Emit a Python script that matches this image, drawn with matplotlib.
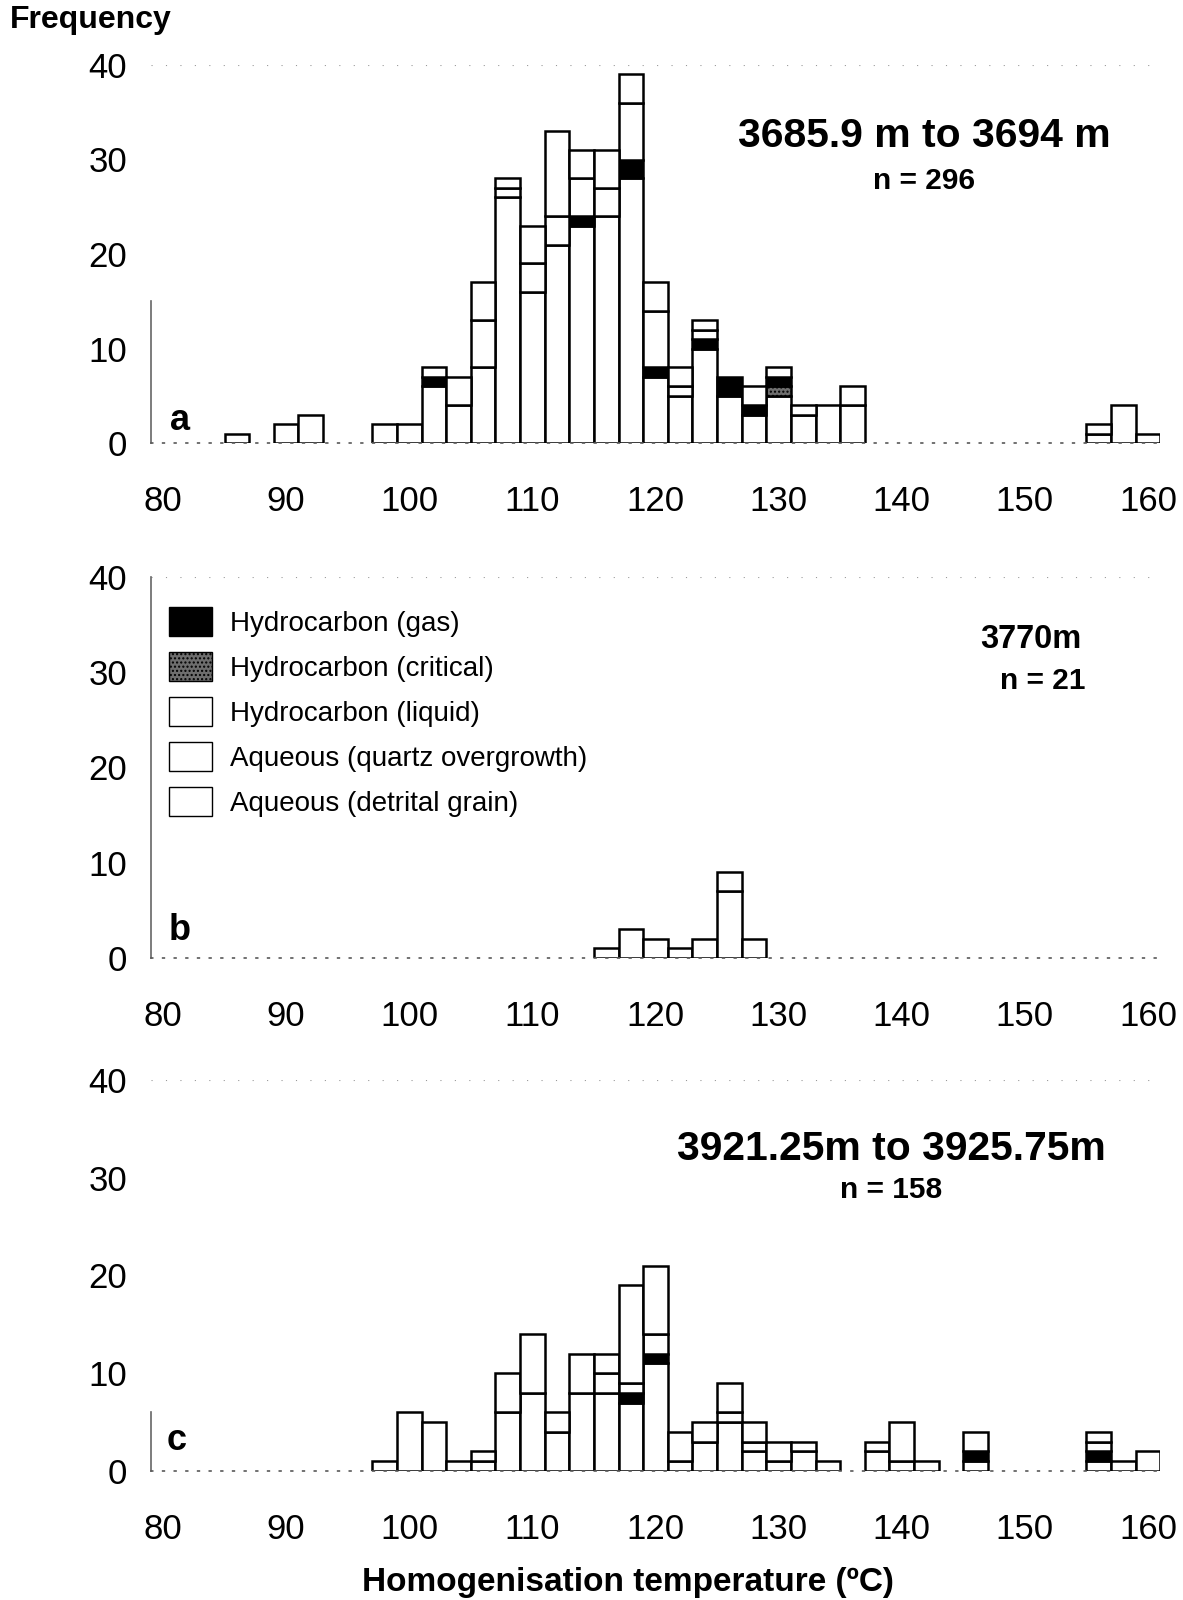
import numpy as np
import matplotlib
matplotlib.use('Agg')
import matplotlib.pyplot as plt
from matplotlib.patches import Patch

plt.rcParams['font.family'] = ['Liberation Sans', 'DejaVu Sans']
plt.rcParams['hatch.linewidth'] = 1.0

# bin centres (2 degC bins) and counts per inclusion type, stacked bottom -> top
a_temp = [86, 90, 92, 98, 100, 102, 104, 106, 108, 110, 112, 114, 116, 118,
          120, 122, 124, 126, 128, 130, 132, 134, 136, 156, 158, 160]
a_liquid = [1, 2, 3, 2, 2, 6, 4, 8, 26, 16, 21, 23, 24, 28,
            7, 5, 10, 5, 3, 5, 3, 4, 4, 1, 4, 1]
a_critical = [0, 0, 0, 0, 0, 0, 0, 0, 0, 0, 0, 0, 0, 0,
              0, 0, 0, 0, 0, 1, 0, 0, 0, 0, 0, 0]
a_gas = [0, 0, 0, 0, 0, 1, 0, 0, 0, 0, 0, 1, 0, 2,
         1, 0, 1, 2, 1, 1, 0, 0, 0, 0, 0, 0]
a_quartz = [0, 0, 0, 0, 0, 1, 3, 5, 1, 3, 3, 4, 3, 6,
            6, 1, 1, 0, 2, 1, 1, 0, 2, 1, 0, 0]
a_detrital = [0, 0, 0, 0, 0, 0, 0, 4, 1, 4, 9, 3, 4, 3,
              3, 2, 1, 0, 0, 0, 0, 0, 0, 0, 0, 0]

b_temp = [116, 118, 120, 122, 124, 126, 128]
b_liquid = [1, 3, 2, 1, 2, 7, 2]
b_critical = [0, 0, 0, 0, 0, 0, 0]
b_gas = [0, 0, 0, 0, 0, 0, 0]
b_quartz = [0, 0, 0, 0, 0, 2, 0]
b_detrital = [0, 0, 0, 0, 0, 0, 0]

c_temp = [98, 100, 102, 104, 106, 108, 110, 112, 114, 116, 118, 120, 122,
          124, 126, 128, 130, 132, 134, 138, 140, 142, 146, 156, 158, 160]
c_liquid = [1, 6, 5, 1, 1, 6, 8, 4, 8, 8, 7, 11, 1,
            3, 5, 2, 1, 2, 1, 2, 1, 1, 1, 1, 1, 2]
c_critical = [0] * 26
c_gas = [0, 0, 0, 0, 0, 0, 0, 0, 0, 0, 1, 1, 0,
         0, 0, 0, 0, 0, 0, 0, 0, 0, 1, 1, 0, 0]
c_quartz = [0, 0, 0, 0, 1, 4, 6, 2, 4, 2, 1, 2, 3,
            2, 1, 1, 2, 1, 0, 1, 4, 0, 2, 1, 0, 0]
c_detrital = [0, 0, 0, 0, 0, 0, 0, 0, 0, 2, 10, 7, 0,
              0, 3, 2, 0, 0, 0, 0, 0, 0, 0, 1, 0, 0]

legend_labels = ['Hydrocarbon (gas)', 'Hydrocarbon (critical)', 'Hydrocarbon (liquid)',
                 'Aqueous (quartz overgrowth)', 'Aqueous (detrital grain)']

W, H = 1183, 1600
fig = plt.figure(figsize=(W / 100, H / 100), dpi=100)


def px_axes(y_zero, y_forty):
    left = 150.7 / W
    width = (1160.3 - 150.7) / W
    return fig.add_axes([left, 1 - y_zero / H, width, (y_zero - y_forty) / H])


def draw_panel(ax, temps, liquid, critical, gas, quartz, detrital, spine_top):
    temps = np.array(temps)
    bottom = np.zeros(len(temps))
    layers = [(liquid, dict(facecolor='white')),
              (critical, dict(facecolor='#6e6e6e', hatch='....')),
              (gas, dict(facecolor='black')),
              (quartz, dict(facecolor='white')),
              (detrital, dict(facecolor='white'))]
    for vals, style in layers:
        vals = np.array(vals, dtype=float)
        m = vals > 0
        if m.any():
            ax.bar(temps[m], vals[m], width=2, bottom=bottom[m], edgecolor='black',
                   linewidth=1.8, **style)
        bottom += vals

    ax.set_xlim(79, 161)
    ax.set_ylim(0, 40)
    ax.set_xticks(range(80, 161, 10))
    ax.set_yticks(range(0, 41, 10))
    ax.tick_params(axis='x', length=0, pad=30, labelsize=25)
    ax.tick_params(axis='y', length=0, pad=17, labelsize=25)
    for s in ['top', 'right']:
        ax.spines[s].set_visible(False)
    ax.spines['bottom'].set_linestyle((0, (1, 6)))
    ax.spines['bottom'].set_color('0.35')
    ax.spines['bottom'].set_linewidth(1.2)
    ax.spines['left'].set_color('0.4')
    ax.spines['left'].set_linewidth(1.2)
    ax.spines['left'].set_bounds(0, spine_top)
    ax.axhline(40, color='0.6', lw=0.8, ls=(0, (1, 12)))
    ax.patch.set_alpha(0)


ax_a = px_axes(443, 65)
draw_panel(ax_a, a_temp, a_liquid, a_critical, a_gas, a_quartz, a_detrital, 15)
ax_b = px_axes(958, 577)
draw_panel(ax_b, b_temp, b_liquid, b_critical, b_gas, b_quartz, b_detrital, 40)
ax_c = px_axes(1471, 1080)
draw_panel(ax_c, c_temp, c_liquid, c_critical, c_gas, c_quartz, c_detrital, 6)


def ftext(x, y, s, **kw):
    fig.text(x / W, 1 - y / H, s, **kw)


ftext(10, 20, 'Frequency', fontsize=23, fontweight='bold', ha='left', va='center')

ftext(924, 136, '3685.9 m to 3694 m', fontsize=29.4, fontweight='bold', ha='center', va='center')
ftext(924, 181, 'n = 296', fontsize=21.5, fontweight='bold', ha='center', va='center')
ftext(1031, 639, '3770m', fontsize=23.5, fontweight='bold', ha='center', va='center')
ftext(1043, 681, 'n = 21', fontsize=21.5, fontweight='bold', ha='center', va='center')
ftext(891, 1149, '3921.25m to 3925.75m', fontsize=29.4, fontweight='bold', ha='center', va='center')
ftext(891, 1190, 'n = 158', fontsize=21.5, fontweight='bold', ha='center', va='center')

ftext(180, 420, 'a', fontsize=26, fontweight='bold', ha='center', va='center')
ftext(180, 930, 'b', fontsize=26, fontweight='bold', ha='center', va='center')
ftext(177, 1440, 'c', fontsize=26, fontweight='bold', ha='center', va='center')

ftext(628, 1582, 'Homogenisation temperature (ºC)', fontsize=24, fontweight='bold',
      ha='center', va='center')

handles = [Patch(facecolor='black', edgecolor='black'),
           Patch(facecolor='#6e6e6e', edgecolor='black', hatch='....'),
           Patch(facecolor='white', edgecolor='black'),
           Patch(facecolor='white', edgecolor='black'),
           Patch(facecolor='white', edgecolor='black')]
ax_b.legend(handles, legend_labels, loc='upper left', bbox_to_anchor=(169 / W, 1 - 607 / H),
            bbox_transform=fig.transFigure, frameon=False, fontsize=20, borderpad=0,
            borderaxespad=0, handlelength=1.55, handleheight=1.25, handletextpad=0.66,
            labelspacing=0.54)

fig.savefig('out.png', dpi=100)
